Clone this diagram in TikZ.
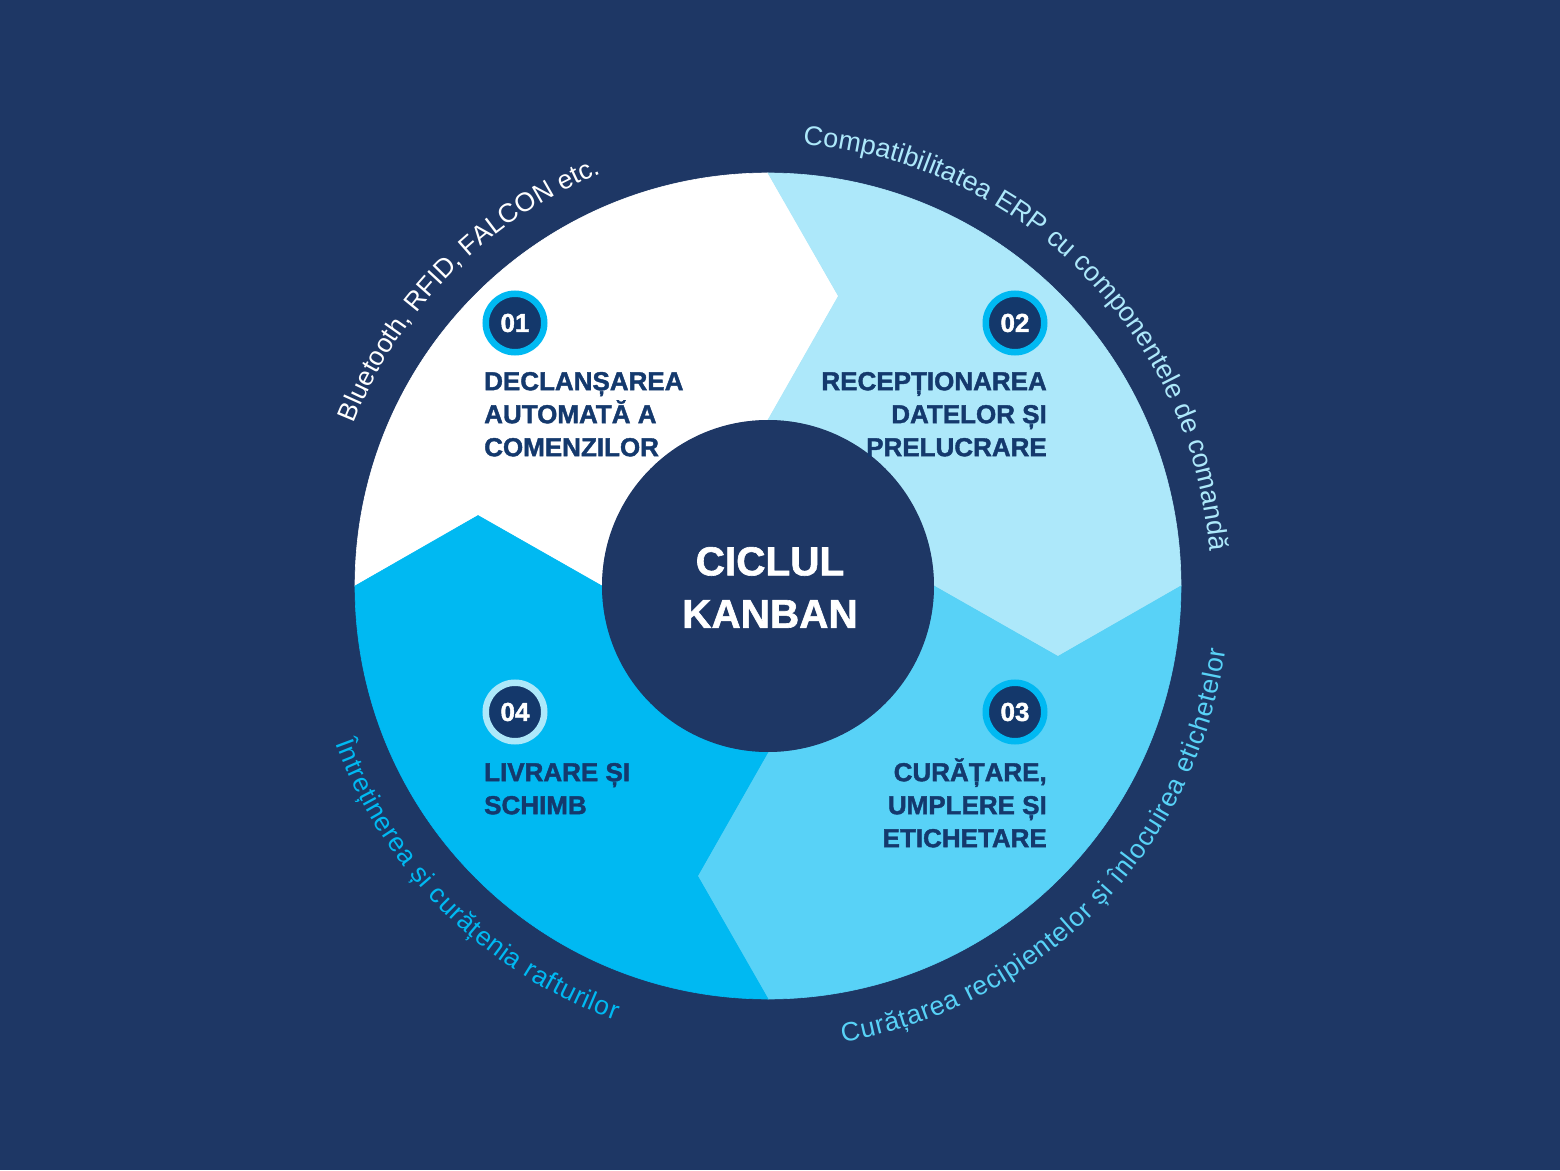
\documentclass[tikz,border=0pt]{standalone}
\usepackage{fontspec}
\setmainfont{Liberation Sans}
\newfontfamily\heavyfont[FakeBold=1.5]{Liberation Sans Bold}
\usetikzlibrary{decorations.text}
\definecolor{bgnavy}{HTML}{1E3765}
\definecolor{segtwo}{HTML}{ADE8FA}
\definecolor{segthree}{HTML}{58D2F7}
\definecolor{segfour}{HTML}{00B9F2}
\definecolor{inknavy}{HTML}{14396D}
\definecolor{badgefill}{HTML}{14386B}
\newcommand\curvefont{\fontsize{26.5}{26.5}\selectfont}
\newcommand\curvefontb{\fontsize{27}{27}\selectfont}
\tikzset{
  badge/.style={circle, minimum size=58.5pt, inner sep=0pt, line width=6.5pt,
    fill=badgefill, text=white, font=\heavyfont\fontsize{26}{26}\selectfont},
  steplabel/.style={inner sep=0pt, text=inknavy, font=\heavyfont\fontsize{26}{33}\selectfont},
  hubtextstyle/.style={inner sep=0pt, text=white, align=center, font=\heavyfont\fontsize{40.5}{52.6}\selectfont},
  segment/.style={line width=0.6pt, fill=#1, draw=#1}
}
\begin{document}
\begin{tikzpicture}[x=1pt,y=1pt]
\useasboundingbox (-768,-584) rectangle (792,586);
\fill[bgnavy] (-768,-584) rectangle (792,586);

% segments
\path[segment=white] (180:413pt) arc[start angle=180, end angle=90, radius=413pt]
  -- (76.34:298.4pt) -- (90:166pt) arc[start angle=90, end angle=180, radius=166pt]
  -- (166.34:298.4pt) -- cycle;
\path[segment=segtwo] (90:413pt) arc[start angle=90, end angle=0, radius=413pt]
  -- (-13.66:298.4pt) -- (0:166pt) arc[start angle=0, end angle=90, radius=166pt]
  -- (76.34:298.4pt) -- cycle;
\path[segment=segthree] (0:413pt) arc[start angle=0, end angle=-90, radius=413pt]
  -- (-103.66:298.4pt) -- (-90:166pt) arc[start angle=-90, end angle=0, radius=166pt]
  -- (-13.66:298.4pt) -- cycle;
\path[segment=segfour] (-90:413pt) arc[start angle=-90, end angle=-180, radius=413pt]
  -- (-193.66:298.4pt) -- (-180:166pt) arc[start angle=-180, end angle=-90, radius=166pt]
  -- (-103.66:298.4pt) -- cycle;

% hub
\node[circle, fill=bgnavy, minimum size=332pt, inner sep=0pt] (hub) at (0,0) {};
\node[hubtextstyle] (hubtext) at (2,-1.5) {CICLUL\\KANBAN};

% badges
\node[badge, draw=segfour] (b1) at (-253,263) {01};
\node[badge, draw=segfour] (b2) at (247,263) {02};
\node[badge, draw=segfour] (b3) at (247,-126) {03};
\node[badge, draw=segtwo] (b4) at (-253,-126) {04};

% labels
\node[steplabel, anchor=north west, align=left] (lab1) at (-284,222)
  {\rule{0pt}{26pt}DECLANȘAREA\\AUTOMATĂ A\\COMENZILOR};
\node[steplabel, anchor=north east, align=right] (lab2) at (279,222)
  {\rule{0pt}{26pt}RECEPȚIONAREA\\DATELOR ȘI\\PRELUCRARE};
\node[steplabel, anchor=north east, align=right] (lab3) at (279,-169)
  {\rule{0pt}{26pt}CURĂȚARE,\\UMPLERE ȘI\\ETICHETARE};
\node[steplabel, anchor=north west, align=left] (lab4) at (-284,-169)
  {\rule{0pt}{26pt}LIVRARE ȘI\\SCHIMB};

% curved texts
\path[decorate, decoration={text along path, text color=white, text align=center,
  text={|\curvefont|Bluetooth, RFID, FALCON etc.}}]
  (175.3:445pt) arc[start angle=175.3, end angle=95.3, radius=445pt];
\path[decorate, decoration={text along path, text color=segtwo, text align=center,
  text={|\curvefontb|Compatibilitatea ERP cu componentele de comandă}}]
  (97:443pt) arc[start angle=97, end angle=-7, radius=443pt];
\path[decorate, decoration={text along path, text color=segthree, text align=fit to path,
  text={|\curvefont|Curățarea recipientelor și înlocuirea etichetelor}}]
  (-80.7:462pt) arc[start angle=-80.7, end angle=-8, radius=462pt];
\path[decorate, decoration={text along path, text color=segfour, text align=fit to path,
  text={|\curvefont|Întreținerea și curățenia rafturilor}}]
  (200:460pt) arc[start angle=200, end angle=250.6, radius=460pt];
\end{tikzpicture}
\end{document}
